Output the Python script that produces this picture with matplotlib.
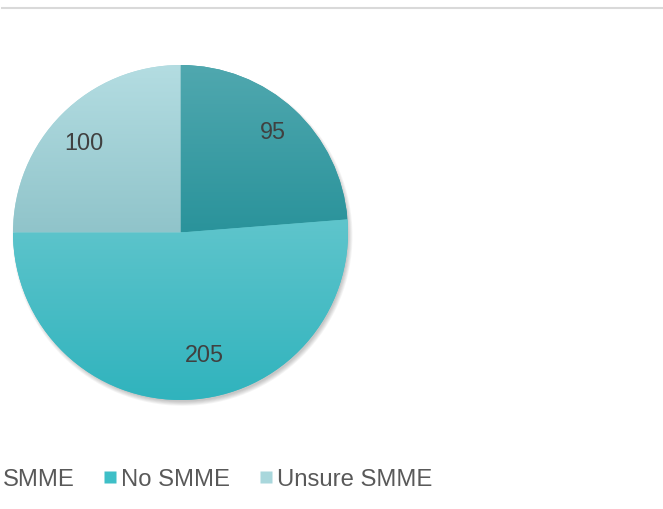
import numpy as np
import matplotlib.pyplot as plt
from matplotlib.colors import to_rgb
from matplotlib.patches import Circle
from matplotlib.lines import Line2D

# data
labels = ['SMME', 'No SMME', 'Unsure SMME']
values = [95, 205, 100]

# colours (gradient top -> bottom per slice)
top_colors = ['#50a8af', '#5fc5cc', '#b4dde2']
bottom_colors = ['#2a939b', '#30b3bd', '#90c4ca']
legend_colors = ['#3a9ea5', '#3ebfc7', '#a9d7dc']

plt.rcParams['font.family'] = ['Liberation Sans', 'DejaVu Sans']

W, H = 663, 509
fig = plt.figure(figsize=(W / 100, H / 100), dpi=100)
ax = fig.add_axes([13 / W, 109 / H, 335 / W, 335 / H])

# soft shadow behind the pie
for k in range(6):
    ax.add_patch(Circle((0.012, -0.02), 0.99 + k * 0.005, color='black',
                        alpha=0.04, lw=0, zorder=0, clip_on=False))

wedges, _ = ax.pie(values, startangle=90, counterclock=False,
                   colors=legend_colors, radius=1,
                   wedgeprops=dict(linewidth=0, zorder=1))

for w, ct, cb in zip(wedges, top_colors, bottom_colors):
    ext = w.get_path().get_extents()
    grad = np.linspace(0, 1, 256)[:, None, None]
    img = (1 - grad) * np.array(to_rgb(cb)) + grad * np.array(to_rgb(ct))
    im = ax.imshow(img, extent=[ext.x0, ext.x1, ext.y0, ext.y1],
                   origin='lower', aspect='auto', zorder=2,
                   interpolation='bilinear')
    im.set_clip_path(w)

# data labels inside slices
label_r = [0.82, 0.74, 0.79]
label_shift = [0.5, 9, 2]
for w, v, r, s in zip(wedges, values, label_r, label_shift):
    ang = np.deg2rad((w.theta1 + w.theta2) / 2 + s)
    ax.text(r * np.cos(ang), r * np.sin(ang) - 0.01, str(v), ha='center',
            va='center', fontsize=16.8, color='#404040', zorder=3)

ax.set_xlim(-1, 1)
ax.set_ylim(-1, 1)
ax.set_aspect('equal')
ax.axis('off')

# legend along the bottom, first entry cut by the left edge
handles = [Line2D([], [], marker='s', ls='none', markersize=9,
                  markerfacecolor=c, markeredgecolor='none')
           for c in legend_colors]
fig.legend(handles, labels, loc='center left',
           bbox_to_anchor=(-14 / W, 1 - 479.5 / H), ncol=3, frameon=False,
           fontsize=17.2, labelcolor='#595959', handlelength=0.5,
           handletextpad=0.2, columnspacing=1.25, borderpad=0,
           borderaxespad=0)

# thin rule at the top
fig.add_artist(Line2D([2 / W, 1], [1 - 7.5 / H, 1 - 7.5 / H],
                      color='#d9d9d9', lw=1.5, transform=fig.transFigure))

fig.savefig('out.png', dpi=100)
